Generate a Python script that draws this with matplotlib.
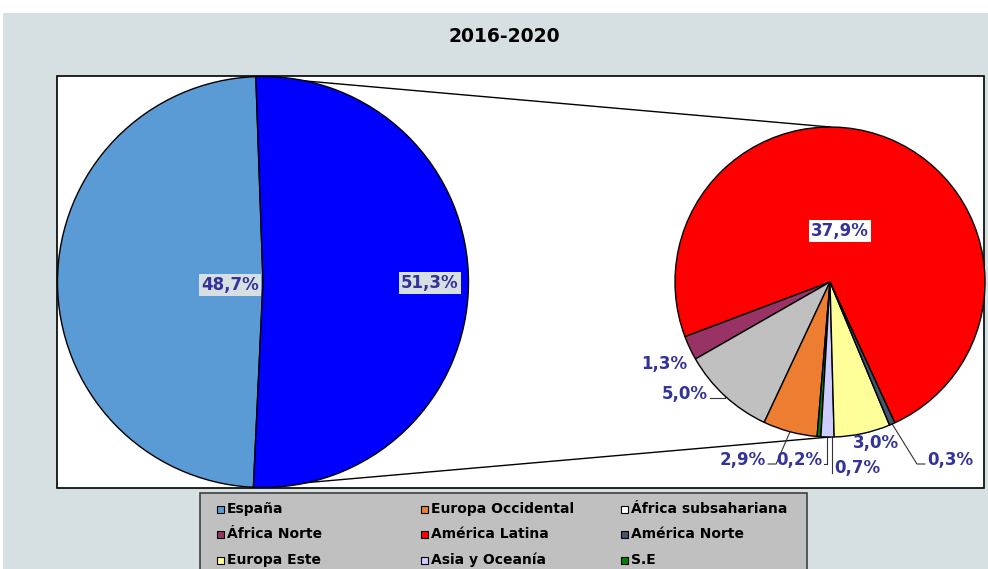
import matplotlib
matplotlib.use("Agg")
import matplotlib.pyplot as plt
import numpy as np
from matplotlib.patches import Rectangle

# datos
titulo = "2016-2020"
left_labels = ["España", "Resto"]
left_values = [48.7, 51.3]
left_colors = ["#5B9BD5", "#0000FF"]

right_labels = ["América Latina", "África Norte", "África subsahariana", "Europa Occidental",
                "S.E", "Asia y Oceanía", "Europa Este", "América Norte"]
right_values = [37.9, 1.3, 5.0, 2.9, 0.2, 0.7, 3.0, 0.3]
right_colors = ["#FF0000", "#993366", "#C0C0C0", "#ED7D31",
                "#008000", "#CCCCFF", "#FFFF99", "#44546A"]

legend_order = ["España", "Europa Occidental", "África subsahariana",
                "África Norte", "América Latina", "América Norte",
                "Europa Este", "Asia y Oceanía", "S.E"]
legend_colors = {"España": "#5B9BD5", "Europa Occidental": "#ED7D31", "África subsahariana": "#FFFFFF",
                 "África Norte": "#993366", "América Latina": "#FF0000", "América Norte": "#44546A",
                 "Europa Este": "#FFFF99", "Asia y Oceanía": "#CCCCFF", "S.E": "#008000"}

W, H = 988, 569
BG = "#D6DFE1"
LBL = "#333399"


def fmt(v):
    return ("%.1f%%" % v).replace(".", ",")


def Y(py):
    return H - py


fig = plt.figure(figsize=(W / 100, H / 100), dpi=100, facecolor="white")
ax = fig.add_axes([0, 0, 1, 1])

# fondo y area de trazado
ax.add_patch(Rectangle((3, 0), W - 3, Y(13), facecolor=BG, edgecolor="none", zorder=0))
ax.add_patch(Rectangle((57, Y(488)), 984 - 57, 488 - 76, facecolor="white",
                       edgecolor="black", lw=1.2, zorder=1))

c1, r1 = (263, Y(282)), 205.5
c2, r2 = (830, Y(282)), 155
start1 = 92
start2 = -65.3

w1, _ = ax.pie(left_values, colors=left_colors, startangle=start1, center=c1, radius=r1,
               wedgeprops=dict(edgecolor="black", linewidth=1), frame=True)
w2, _ = ax.pie(right_values, colors=right_colors, startangle=start2, center=c2, radius=r2,
               wedgeprops=dict(edgecolor="black", linewidth=1), frame=True)
for w in list(w1) + list(w2):
    w.set_zorder(3)

ax.set_xlim(0, W)
ax.set_ylim(0, H)
ax.set_aspect("auto")
ax.axis("off")

# lineas de union
a_top = np.deg2rad(start1)
a_bot = np.deg2rad(start1 + left_values[0] / sum(left_values) * 360)
ax.plot([c1[0] + r1 * np.cos(a_top), c2[0]], [c1[1] + r1 * np.sin(a_top), c2[1] + r2],
        color="black", lw=1, zorder=2)
ax.plot([c1[0] + r1 * np.cos(a_bot), c2[0]], [c1[1] + r1 * np.sin(a_bot), c2[1] - r2],
        color="black", lw=1, zorder=2)

tkw = dict(color=LBL, fontsize=12, fontweight="bold", ha="center", va="center", zorder=6)
ax.text(230, Y(285), fmt(left_values[0]), bbox=dict(facecolor=BG, edgecolor="none", pad=1.5), **tkw)
ax.text(430, Y(283), fmt(left_values[1]), bbox=dict(facecolor=BG, edgecolor="none", pad=1.5), **tkw)

# etiquetas del segundo pastel
pos = [(840, 231), (664, 364), (685, 394), (743, 460), (799, 460), (857, 468), (876, 443), (950, 460)]
side = [None, None, "r", "r", "v", "l", None, "l"]
fig.canvas.draw()
r = fig.canvas.get_renderer()
for i, (w, v) in enumerate(zip(w2, right_values)):
    px, py = pos[i]
    if i == 0:
        ax.text(px, Y(py), fmt(v), bbox=dict(facecolor="white", edgecolor="none", pad=1.5), **tkw)
        continue
    t = ax.text(px, Y(py), fmt(v), **tkw)
    if side[i] is None:
        continue
    bb = t.get_window_extent(r)
    mid = np.deg2rad((w.theta1 + w.theta2) / 2)
    ex, ey = c2[0] + r2 * np.cos(mid), c2[1] + r2 * np.sin(mid)
    yl = Y(py + 4)
    if side[i] == "v":
        sx = bb.x1 + 2
        kx = sx + 3
        ky = c2[1] - np.sqrt(r2 ** 2 - (kx - c2[0]) ** 2)
        ax.plot([sx, kx, kx], [yl, yl, ky], color="#333333", lw=0.8, zorder=2)
        continue
    if side[i] == "r":
        sx = bb.x1 + 2
        kx = min(sx + 8, ex) if i != 2 else ex
    else:
        sx = bb.x0 - 2
        kx = max(sx - 8, ex)
    if i == 5:
        ax.plot([sx, sx], [Y(py + 5), ey], color="#333333", lw=0.8, zorder=2)
    else:
        ax.plot([sx, kx, ex], [yl, yl, ey], color="#333333", lw=0.8, zorder=2)

ax.text(504, Y(36), titulo, fontsize=13.5, fontweight="bold", ha="center", va="center", zorder=6)

# leyenda
ax.add_patch(Rectangle((200, -10), 607, Y(493) + 10, facecolor="#C0C0C0",
                       edgecolor="#404040", lw=1.2, zorder=4))
col_x = [217, 421, 621]
row_y = [509, 534, 560]
for k, name in enumerate(legend_order):
    x0 = col_x[k % 3]
    y0 = row_y[k // 3]
    ax.add_patch(Rectangle((x0, Y(y0) - 3.5), 7, 7, facecolor=legend_colors[name],
                           edgecolor="black", lw=0.8, zorder=5))
    ax.text(x0 + 10, Y(y0), name, fontsize=10, fontweight="bold", ha="left", va="center", zorder=6)

fig.savefig("out.png", dpi=100, facecolor="white")
